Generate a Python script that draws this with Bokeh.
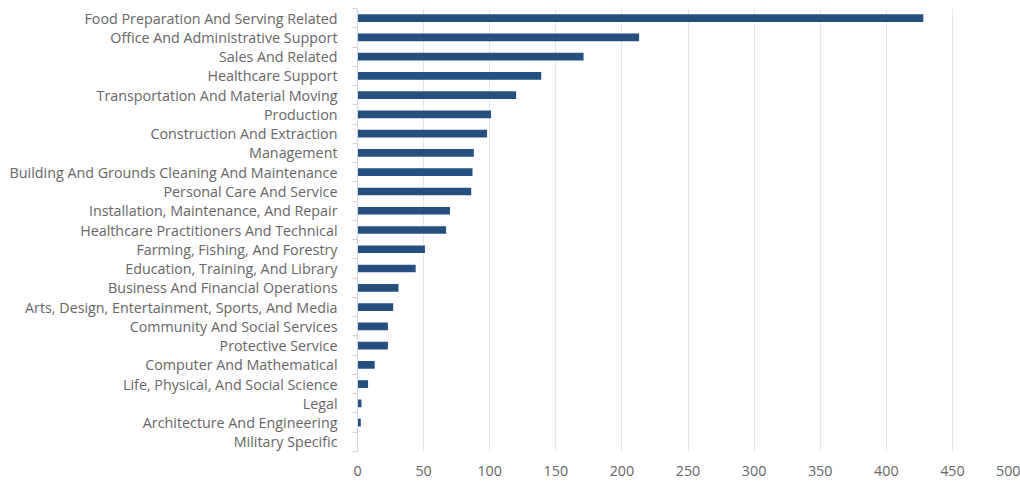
from bokeh.plotting import figure
from bokeh.models import Range1d, FixedTicker, ColumnDataSource
from bokeh.embed import file_html
from bokeh.resources import INLINE

categories = [
    "Food Preparation And Serving Related",
    "Office And Administrative Support",
    "Sales And Related",
    "Healthcare Support",
    "Transportation And Material Moving",
    "Production",
    "Construction And Extraction",
    "Management",
    "Building And Grounds Cleaning And Maintenance",
    "Personal Care And Service",
    "Installation, Maintenance, And Repair",
    "Healthcare Practitioners And Technical",
    "Farming, Fishing, And Forestry",
    "Education, Training, And Library",
    "Business And Financial Operations",
    "Arts, Design, Entertainment, Sports, And Media",
    "Community And Social Services",
    "Protective Service",
    "Computer And Mathematical",
    "Life, Physical, And Social Science",
    "Legal",
    "Architecture And Engineering",
    "Military Specific",
]
values = [428, 213, 171, 139, 120, 101, 98, 88, 87, 86, 70, 67,
          51, 44, 31, 27, 23, 23, 13, 8, 3, 2.5, 0]
x_ticks = [0, 50, 100, 150, 200, 250, 300, 350, 400, 450, 500]

FONT = "Open Sans"
GREY = "#666666"
BAR = "#24507f"
FS = "14.3px"

n = len(categories)
pos = list(range(n))
src = ColumnDataSource(dict(y=pos, v=values, name=categories))

p = figure(width=1020, height=487, output_backend="svg", toolbar_location=None,
           x_range=Range1d(0, 500), y_range=Range1d(n - 0.5, -0.5),
           min_border_left=357, min_border_right=2, min_border_top=8,
           min_border_bottom=36)
p.outline_line_color = None
p.hbar(y="y", right="v", left=0, height=0.4, source=src,
       fill_color=BAR, line_color=None)

# y axis
yax = p.yaxis[0]
yax.ticker = FixedTicker(ticks=pos, minor_ticks=[i + 0.5 for i in range(-1, n)])
yax.major_label_overrides = {i: c for i, c in zip(pos, categories)}
yax.major_tick_out = 0
yax.major_tick_in = 0
yax.minor_tick_out = 5
yax.minor_tick_in = 0
yax.minor_tick_line_color = "#e3cfc8"
yax.axis_line_color = "#c8d6e6"
yax.major_label_standoff = 15
yax.major_label_text_font = FONT
yax.major_label_text_font_size = FS
yax.major_label_text_color = GREY

# x axis
xax = p.xaxis[0]
xax.ticker = FixedTicker(ticks=x_ticks)
xax.axis_line_color = None
xax.major_tick_line_color = None
xax.minor_tick_line_color = None
xax.major_label_standoff = 8
xax.major_label_text_font = FONT
xax.major_label_text_font_size = FS
xax.major_label_text_color = GREY

p.ygrid.grid_line_color = None
p.xgrid.ticker = FixedTicker(ticks=x_ticks[:-1])
p.xgrid.grid_line_color = "#e6e6e6"
p.xgrid.grid_line_width = 1

open("out.html", "w").write(file_html(p, INLINE))
